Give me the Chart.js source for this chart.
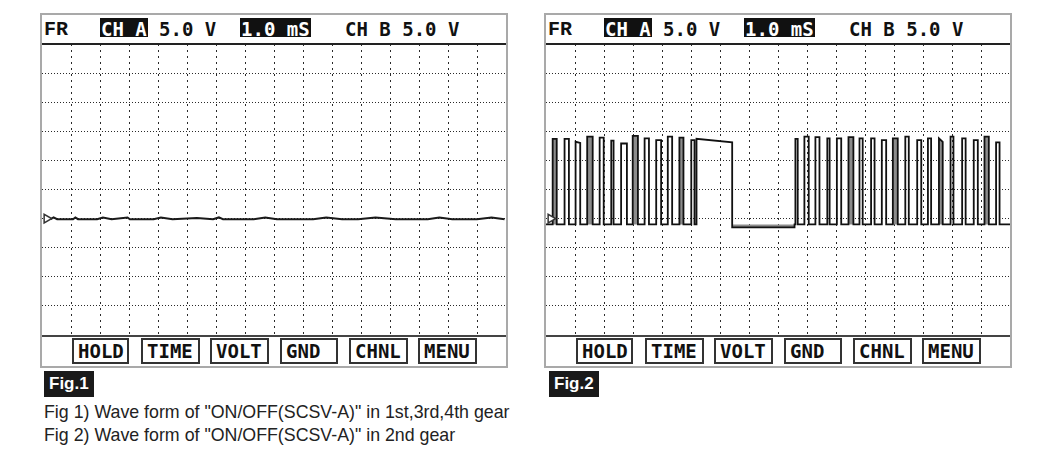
<!DOCTYPE html>
<html>
<head>
<meta charset="utf-8">
<script src="https://cdn.jsdelivr.net/npm/chart.js@4.4.1/dist/chart.umd.min.js"></script>
<style>
  body { margin: 0; background: #fff; width: 1051px; height: 455px; position: relative; overflow: hidden; }
  .panel { position: absolute; top: 13px; width: 468px; height: 355px; border: 2px solid #a9a9a9; box-sizing: border-box; background: #fff; }
  .hdr { position: absolute; top: 3px; height: 19px; line-height: 19px; font: bold 19px "DejaVu Sans Mono", monospace; color: #111; white-space: pre; }
  .hdr.fr { font-family: "Liberation Mono", monospace; font-size: 20px; }
  .inv { background: #111; color: #fff; padding: 0 1px; }
  .sep { position: absolute; left: 0; right: 0; height: 2px; background: #222; z-index: 2; }
  .plot { position: absolute; left: 0; top: 29px; width: 464px; height: 291px; }
  .plot canvas { display: block; }
  .btn { position: absolute; top: 323px; height: 26px; box-sizing: border-box; border: 2px solid #333; font: bold 19px "DejaVu Sans Mono", monospace; line-height: 22px; padding-left: 4px; color: #111; white-space: pre; }
  .figtag { position: absolute; top: 371px; height: 26px; background: #1a1a1a; color: #fff; font: bold 17px "Liberation Sans", Arial, sans-serif; line-height: 26px; padding: 0 5px; }
  .cap { position: absolute; left: 44px; font: 17.8px "Liberation Sans", Arial, sans-serif; color: #222; white-space: pre; }
</style>
</head>
<body>

<div class="panel" style="left:40px">
  <span class="hdr fr" style="left:2px">FR</span>
  <span class="hdr inv" style="left:58px">CH A</span>
  <span class="hdr" style="left:117px">5.0 V</span>
  <span class="hdr inv" style="left:198px">1.0 mS</span>
  <span class="hdr" style="left:303px">CH B 5.0 V</span>
  <div class="sep" style="top:28px"></div>
  <div class="plot"><canvas id="scope1" width="464" height="291"></canvas></div>
  <div class="sep" style="top:320px;background:#444"></div>
  <div class="btn" style="left:30px;width:57px">HOLD</div>
  <div class="btn" style="left:99px;width:59px">TIME</div>
  <div class="btn" style="left:168px;width:59px">VOLT</div>
  <div class="btn" style="left:238px;width:58px">GND</div>
  <div class="btn" style="left:307px;width:59px">CHNL</div>
  <div class="btn" style="left:376px;width:59px">MENU</div>
</div>

<div class="panel" style="left:544px">
  <span class="hdr fr" style="left:2px">FR</span>
  <span class="hdr inv" style="left:58px">CH A</span>
  <span class="hdr" style="left:117px">5.0 V</span>
  <span class="hdr inv" style="left:198px">1.0 mS</span>
  <span class="hdr" style="left:303px">CH B 5.0 V</span>
  <div class="sep" style="top:28px"></div>
  <div class="plot"><canvas id="scope2" width="464" height="291"></canvas></div>
  <div class="sep" style="top:320px;background:#444"></div>
  <div class="btn" style="left:30px;width:57px">HOLD</div>
  <div class="btn" style="left:99px;width:59px">TIME</div>
  <div class="btn" style="left:168px;width:59px">VOLT</div>
  <div class="btn" style="left:238px;width:58px">GND</div>
  <div class="btn" style="left:307px;width:59px">CHNL</div>
  <div class="btn" style="left:376px;width:59px">MENU</div>
</div>

<div class="figtag" style="left:44px">Fig.1</div>
<div class="figtag" style="left:549px">Fig.2</div>
<div class="cap" style="top:402px">Fig 1) Wave form of "ON/OFF(SCSV-A)" in 1st,3rd,4th gear</div>
<div class="cap" style="top:425px">Fig 2) Wave form of "ON/OFF(SCSV-A)" in 2nd gear</div>

<script>
// Screen: 16 divisions at 1.0 ms/div, 10 divisions at 5.0 V/div, ground 4 divisions up
const TIME_MAX = 16;
const VOLT_MIN = -20;
const VOLT_MAX = 30;

// Fig 1: flat trace at ground with small blips (ms, V)
const fig1Time = [0.30, 0.40, 0.52, 1.07, 1.15, 1.24, 1.90, 2.10, 2.40, 2.95, 3.03,
                  3.85, 4.10, 4.50, 5.34, 5.90, 6.10, 6.24, 7.30, 7.70, 8.10,
                  9.35, 9.80, 10.35, 10.90, 11.50, 12.20, 13.30, 13.70, 14.15, 15.00, 15.50, 15.95];
const fig1Volt = [-0.1, 0.2, -0.1, -0.1, 0.2, -0.1, -0.1, 0.2, -0.1, 0.2, -0.1,
                  -0.1, 0.2, -0.1, 0.1, -0.1, 0.2, -0.1, -0.1, 0.2, -0.1,
                  -0.1, 0.2, -0.1, -0.1, 0.2, -0.1, -0.1, 0.2, -0.1, -0.1, 0.2, -0.1];

// Fig 2: ON/OFF pulses (ms on, ms off, top volts at start / end)
const pulseOn  = [0.23, 0.64, 1.02, 1.42, 1.85, 2.25, 2.59, 2.99, 3.40, 3.80, 4.20, 4.60, 5.01, 5.19,
                  8.60, 8.91, 9.29, 9.70, 10.03, 10.43, 10.81, 11.21, 11.58, 11.96, 12.39, 12.80,
                  13.17, 13.55, 13.95, 14.35, 14.75, 15.12, 15.52];
const pulseOff = [0.37, 0.79, 1.18, 1.61, 1.99, 2.33, 2.79, 3.17, 3.55, 3.97, 4.35, 4.74, 5.12, 6.42,
                  8.68, 9.06, 9.43, 9.78, 10.18, 10.60, 10.92, 11.33, 11.73, 12.13, 12.51, 12.94,
                  13.28, 13.68, 14.05, 14.47, 14.89, 15.27, 15.64];
const pulseTop = [13.7, 13.7, 13.2, 14.1, 13.9, 13.4, 12.9, 14.2, 13.8, 13.5, 14.1, 13.9, 13.5, 13.7,
                  13.7, 14.1, 14.0, 13.8, 13.8, 14.0, 13.8, 13.8, 13.5, 13.8, 14.1, 13.5,
                  13.8, 13.8, 14.1, 13.8, 13.5, 14.1, 13.1];
const pulseTopEnd = [13.7, 13.7, 13.0, 14.1, 13.9, 13.4, 12.9, 14.2, 13.8, 13.5, 14.1, 13.9, 13.5, 13.1,
                  13.7, 14.1, 14.0, 13.8, 13.8, 14.0, 13.8, 13.8, 13.5, 13.8, 14.1, 13.5,
                  13.8, 13.2, 14.1, 13.8, 13.5, 14.1, 13.1];
// grey (overlapping sweeps) pulses
const pulseShaded = [1, 0, 0, 1, 0, 0, 0, 1, 0, 0, 0, 1, 0, 0,
                     0, 0, 0, 0, 0, 1, 0, 0, 0, 1, 0, 0,
                     0, 1, 0, 0, 0, 1, 0];
// OFF level changes (ms, V)
const lowStepTime = [0, 6.42, 8.57];
const lowStepVolt = [-1.0, -1.5, -1.0];

function lowAt(t) {
  let v = lowStepVolt[0];
  lowStepTime.forEach((s, i) => { if (t >= s) v = lowStepVolt[i]; });
  return v;
}

/**
 * Build the step trace of the pulses; onlyShaded keeps the grey ones
 */
function buildPulseTrace(onlyShaded) {
  const pts = [{ x: 0, y: lowAt(0) }];
  let prevOff = 0;
  for (let i = 0; i < pulseOn.length; i++) {
    for (let s = 1; s < lowStepTime.length; s++) {
      const ts = lowStepTime[s];
      if (ts > prevOff && ts < pulseOn[i]) {
        pts.push({ x: ts, y: lowStepVolt[s - 1] }, { x: ts, y: lowStepVolt[s] });
      }
    }
    const show = !onlyShaded || pulseShaded[i];
    const lowOn = lowAt(pulseOn[i]);
    const lowOff = lowAt(pulseOff[i]);
    pts.push({ x: pulseOn[i], y: lowOn });
    if (show) {
      pts.push({ x: pulseOn[i], y: pulseTop[i] }, { x: pulseOff[i], y: pulseTopEnd[i] });
    } else {
      pts.push({ x: pulseOff[i], y: lowOn });
    }
    pts.push({ x: pulseOff[i], y: lowOff });
    prevOff = pulseOff[i];
  }
  pts.push({ x: TIME_MAX, y: lowAt(TIME_MAX) });
  return pts;
}

const gridColor = (c) =>
  (c.tick.value <= c.scale.min || c.tick.value >= c.scale.max) ? "rgba(0,0,0,0)" : "#2a2a2a";

function groundMarker() {
  return {
    data: [{ x: 0.16, y: 0 }],
    showLine: false,
    pointStyle: "triangle",
    rotation: 90,
    pointRadius: 5,
    backgroundColor: "#fff",
    borderColor: "#333",
    borderWidth: 1.5,
    clip: false,
  };
}

function makeScope(id, datasets) {
  return new Chart(document.getElementById(id), {
    type: "line",
    data: { datasets },
    options: {
      responsive: false,
      animation: false,
      devicePixelRatio: 1,
      layout: { padding: 0, autoPadding: false },
      plugins: { legend: { display: false }, tooltip: { enabled: false } },
      elements: { line: { tension: 0 }, point: { radius: 0 } },
      scales: {
        x: {
          type: "linear", min: 0, max: TIME_MAX,
          ticks: { display: false, stepSize: 1 },
          grid: { color: gridColor, lineWidth: 1, drawTicks: false },
          border: { display: false, dash: [2, 4] },
        },
        y: {
          type: "linear", min: VOLT_MIN, max: VOLT_MAX,
          ticks: { display: false, stepSize: 5 },
          grid: { color: gridColor, lineWidth: 1, drawTicks: false },
          border: { display: false, dash: [1, 2] },
        },
      },
    },
  });
}

makeScope("scope1", [
  groundMarker(),
  {
    data: fig1Time.map((t, i) => ({ x: t, y: fig1Volt[i] })),
    borderColor: "#1a1a1a",
    borderWidth: 2,
    pointRadius: 0,
  },
]);

makeScope("scope2", [
  groundMarker(),
  {
    data: buildPulseTrace(false),
    borderColor: "#111",
    borderWidth: 1.8,
    pointRadius: 0,
  },
  {
    data: buildPulseTrace(true),
    borderWidth: 0,
    borderColor: "rgba(0,0,0,0)",
    backgroundColor: "#8c8c8c",
    fill: { value: -1.0 },
    pointRadius: 0,
  },
]);
</script>
</body>
</html>
